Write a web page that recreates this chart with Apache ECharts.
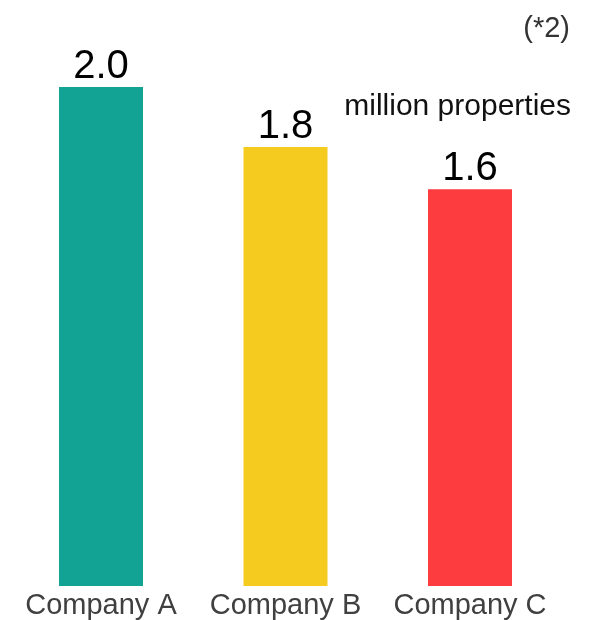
<!DOCTYPE html>
<html>
<head>
<meta charset="utf-8">
<script src="https://cdn.jsdelivr.net/npm/echarts@6/dist/echarts.min.js"></script>
<style>html,body{margin:0;padding:0;background:#fff;}#c{width:592px;height:620px;}</style>
</head>
<body>
<div id="c"></div>
<script>
const categories = ['Company A', 'Company B', 'Company C'];
const values = [2.0, 1.76, 1.59];
const barColors = ['#12A394', '#F5CB1F', '#FD3C3F'];
const unitLabel = 'million properties';
const noteLabel = '(*2)';

const chart = echarts.init(document.getElementById('c'), null, {renderer: 'canvas'});
chart.setOption({
  backgroundColor: '#fff',
  animation: false,
  title: [
    {text: noteLabel, right: 17, top: 9, textStyle: {fontFamily: 'Liberation Sans', fontSize: 29, fontWeight: 'normal', color: '#333'}},
    {text: unitLabel, right: 16, top: 87, textStyle: {fontFamily: 'Liberation Sans', fontSize: 30, fontWeight: 'normal', color: '#111'}}
  ],
  grid: {left: 8.75, right: 29.75, top: 87, bottom: 34},
  xAxis: {
    type: 'category', data: categories,
    axisLine: {show: false}, axisTick: {show: false},
    axisLabel: {fontFamily: 'Liberation Sans', fontSize: 29, color: '#404040', margin: 5, interval: 0, hideOverlap: false}
  },
  yAxis: {type: 'value', min: 0, max: 2.0, show: false, splitLine: {show: false}},
  series: [{
    type: 'bar', barWidth: 84,
    data: values.map((v, i) => ({value: v, itemStyle: {color: barColors[i]}})),
    label: {
      show: true, position: 'top', distance: 0,
      fontFamily: 'Liberation Sans', fontSize: 40, color: '#000',
      formatter: p => p.value.toFixed(1)
    }
  }]
});
</script>
</body>
</html>
